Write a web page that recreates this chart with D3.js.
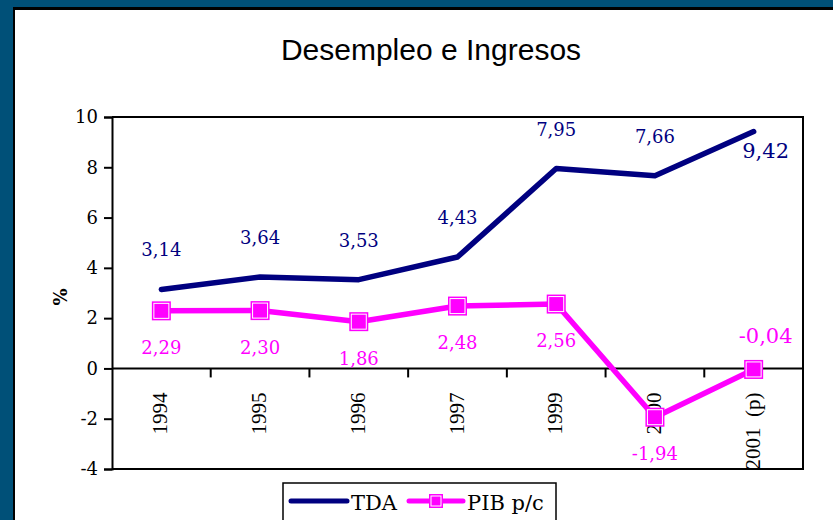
<!DOCTYPE html>
<html>
<head>
<meta charset="utf-8">
<script src="https://cdn.jsdelivr.net/npm/d3@7"></script>
<style>
  html, body { margin: 0; padding: 0; background: #005078; }
  #chart { width: 833px; height: 520px; }
</style>
</head>
<body>
<div id="chart"></div>
<script>
// chart data
const years = ['1994', '1995', '1996', '1997', '1999', '2000', '2001  (p)'];
const tda = [3.14, 3.64, 3.53, 4.43, 7.95, 7.66, 9.42];
const pib = [2.29, 2.30, 1.86, 2.48, 2.56, -1.94, -0.04];
const yTicks = [-4, -2, 0, 2, 4, 6, 8, 10];
const seriesNames = ['TDA', 'PIB p/c'];

const navy = '#000080';
const magenta = '#ff00ff';
const fmt = v => d3.format('.2f')(v).replace('.', ',').replace('−', '-');

const svgWidth = 833, svgHeight = 520;
const margin = {top: 117, right: 30, bottom: 51, left: 112};
const width = svgWidth - margin.left - margin.right;
const height = svgHeight - margin.top - margin.bottom;

const svg = d3.select('#chart').append('svg')
  .attr('width', svgWidth)
  .attr('height', svgHeight);

// frame
svg.append('rect').attr('x', 13).attr('y', 7).attr('width', svgWidth).attr('height', svgHeight).attr('fill', '#000');
svg.append('rect').attr('x', 15).attr('y', 10).attr('width', svgWidth).attr('height', svgHeight).attr('fill', '#fff');

svg.append('text')
  .attr('x', 431).attr('y', 60)
  .attr('text-anchor', 'middle')
  .style('font-family', '"Liberation Sans", Arial, sans-serif')
  .style('font-size', '30px')
  .text('Desempleo e Ingresos');

const g = svg.append('g').attr('transform', `translate(${margin.left},${margin.top})`);

const xScale = d3.scaleBand().domain(years).range([0, width]);
const yScale = d3.scaleLinear().domain([-4, 10]).range([height, 0]);
const cx = d => xScale(d) + xScale.bandwidth() / 2;

// plot border (top, right, bottom)
g.append('path')
  .attr('d', `M0,0H${width}V${height}H0`)
  .attr('fill', 'none').attr('stroke', '#000').attr('stroke-width', 2);

// y axis
const yAxis = d3.axisLeft(yScale).tickValues(yTicks).tickSize(8).tickPadding(6)
  .tickFormat(d => d3.format('d')(d).replace('−', '-'));
const yg = g.append('g').call(yAxis);
yg.select('.domain').attr('stroke-width', 2);
yg.selectAll('.tick line').attr('stroke-width', 2);
yg.selectAll('.tick text')
  .style('font-family', '"DejaVu Serif", serif')
  .style('font-size', '18px')
  .attr('fill', '#000');

// x axis on zero line, ticks at category boundaries
const zy = yScale(0);
const xg = g.append('g').attr('transform', `translate(0,${zy})`);
xg.append('line').attr('x1', 0).attr('x2', width).attr('stroke', '#000').attr('stroke-width', 2);
xg.selectAll('.bound').data(years.slice(1))
  .enter().append('line')
  .attr('class', 'bound')
  .attr('x1', d => xScale(d)).attr('x2', d => xScale(d))
  .attr('y1', 0).attr('y2', 9)
  .attr('stroke', '#000').attr('stroke-width', 2);
xg.selectAll('.xlab').data(years)
  .enter().append('text')
  .attr('class', 'xlab')
  .attr('transform', d => `translate(${cx(d) + 6},24) rotate(-90)`)
  .attr('text-anchor', 'end')
  .style('font-family', '"Liberation Serif", "Times New Roman", serif')
  .style('font-size', '21px')
  .style('white-space', 'pre')
  .text(d => d);

// y label
svg.append('text')
  .attr('transform', 'translate(67,297) rotate(-90)')
  .attr('text-anchor', 'middle')
  .style('font-family', '"DejaVu Serif", serif')
  .style('font-size', '18px')
  .style('font-weight', 'bold')
  .text('%');

const line = d3.line().x(d => cx(d[0])).y(d => yScale(d[1]));

// TDA
g.append('path')
  .datum(years.map((y, i) => [y, tda[i]]))
  .attr('d', line)
  .attr('fill', 'none').attr('stroke', navy).attr('stroke-width', 5.5)
  .attr('stroke-linejoin', 'round').attr('stroke-linecap', 'round');

// PIB
g.append('path')
  .datum(years.map((y, i) => [y, pib[i]]))
  .attr('d', line)
  .attr('fill', 'none').attr('stroke', magenta).attr('stroke-width', 5.5)
  .attr('stroke-linejoin', 'round');

function marker(sel, size) {
  sel.append('rect')
    .attr('x', -size / 2).attr('y', -size / 2)
    .attr('width', size).attr('height', size)
    .attr('fill', magenta);
  sel.append('rect')
    .attr('x', -size / 2 + 2).attr('y', -size / 2 + 2)
    .attr('width', size - 4).attr('height', size - 4)
    .attr('fill', 'none').attr('stroke', '#fff').attr('stroke-width', 1);
}

g.selectAll('.pt').data(years)
  .enter().append('g')
  .attr('class', 'pt')
  .attr('transform', (d, i) => `translate(${cx(d)},${yScale(pib[i])})`)
  .each(function () { marker(d3.select(this), 19); });

// value labels
const last = years.length - 1;
g.selectAll('.tdal').data(years)
  .enter().append('text')
  .attr('class', 'tdal')
  .attr('x', (d, i) => cx(d) + (i === last ? 12 : 0))
  .attr('y', (d, i) => yScale(tda[i]) + (i === last ? 26 : -33))
  .attr('text-anchor', 'middle')
  .attr('fill', navy)
  .style('font-family', '"DejaVu Serif", serif')
  .style('font-size', (d, i) => i === last ? '21px' : '18px')
  .text((d, i) => fmt(tda[i]));

g.selectAll('.pibl').data(years)
  .enter().append('text')
  .attr('class', 'pibl')
  .attr('x', (d, i) => cx(d) + (i === last ? 12 : 0))
  .attr('y', (d, i) => yScale(pib[i]) + (i === last ? -26 : 43))
  .attr('text-anchor', 'middle')
  .attr('fill', magenta)
  .style('font-family', '"DejaVu Serif", serif')
  .style('font-size', (d, i) => i === last ? '21px' : '18px')
  .text((d, i) => fmt(pib[i]));

// legend
const lg = svg.append('g').attr('transform', 'translate(283,483)');
lg.append('rect').attr('width', 273).attr('height', 50)
  .attr('fill', '#fff').attr('stroke', '#000').attr('stroke-width', 1.5);
lg.append('line').attr('x1', 8).attr('x2', 64).attr('y1', 18).attr('y2', 18)
  .attr('stroke', navy).attr('stroke-width', 5).attr('stroke-linecap', 'round');
lg.append('text').attr('x', 68).attr('y', 27)
  .style('font-family', '"DejaVu Serif", serif').style('font-size', '21px')
  .text(seriesNames[0]);
lg.append('line').attr('x1', 126).attr('x2', 180).attr('y1', 18).attr('y2', 18)
  .attr('stroke', magenta).attr('stroke-width', 5).attr('stroke-linecap', 'round');
lg.append('g').attr('transform', 'translate(153,18)').call(s => marker(s, 14));
lg.append('text').attr('x', 184).attr('y', 27)
  .style('font-family', '"DejaVu Serif", serif').style('font-size', '21px')
  .text(seriesNames[1]);
</script>
</body>
</html>
